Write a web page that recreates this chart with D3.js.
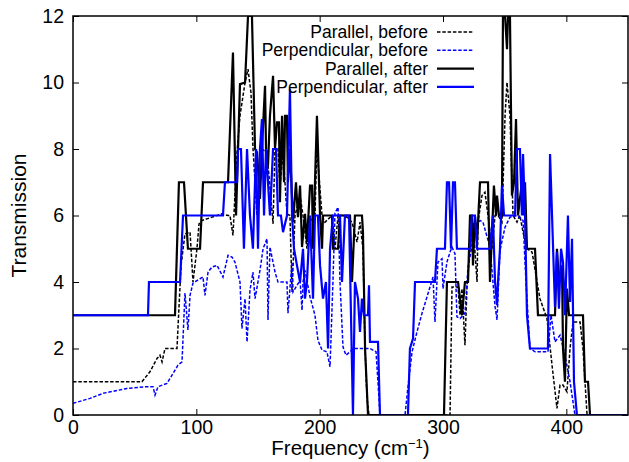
<!DOCTYPE html>
<html>
<head>
<meta charset="utf-8">
<script src="https://cdn.jsdelivr.net/npm/d3@7/dist/d3.min.js"></script>
<style>
  body { margin: 0; background: #fff; }
  svg { font-family: "Liberation Sans", Arial, sans-serif; }
  .axis path { display: none; }
  .axis line { stroke: #000; stroke-width: 1; }
  .axis text { font-size: 19.5px; fill: #000; }
  .line { fill: none; stroke-linejoin: miter; }
</style>
</head>
<body>
<svg width="629" height="462"></svg>
<script>
// [frequency (cm^-1), transmission]
var parBefore = [
  [0,1],[55.9,1],[62.4,1.3],[68.1,1.7],[70.5,1.8],[72.2,1.6],[74.6,2],[84.3,2],[87.6,4.5],
  [90.8,5.45],[94.9,5.5],[97.3,4],[100.5,5],[102.2,5.75],[104.6,5.85],[112.7,5.95],[120.8,6.05],
  [125.7,6],[127.3,6],[129.7,5.4],[133,7.9],[135.4,9],[139.5,10],[141.9,10.4],[144.3,9.7],
  [145.9,8.05],[149.2,6],[151.6,7.9],[155.7,8],[158.1,7.55],[162.2,5.75],[163.8,8.05],[166.2,8],
  [167.8,6.9],[170.3,7.9],[173.5,6.05],[175.9,6],[177.6,3.7],[180,6],[184.1,6.6],[186.5,6],
  [189.7,5],[192.2,5.8],[196.2,6],[197.8,8.2],[198.6,7.6],[201.9,6],[204.3,5.8],[210,6],
  [212.4,5],[214.9,6],[220.5,6],[226.2,5.8],[230.3,5.2],[232.7,5.8],[235.1,5],[236.8,2],
  [238.4,0.5],[240,0],[305.7,0],[307.3,3.85],[312.2,3.85],[313.8,3],[315.4,3.8],[317.8,2.1],
  [319.5,3.9],[321.9,5],[324.3,5.8],[327.6,4],[328.4,5.8],[331.6,6.6],[334,6.7],[336.5,6],
  [339.7,5],[342.2,6],[344.6,6],[347.8,5.8],[350.3,9],[351.9,10],[354.3,9],[356.8,6],[360,5.8],
  [362.4,6],[364.9,5.5],[368.1,5],[372.2,4.9],[378.6,3.5],[384.3,2.9],[388.4,1.5],[392.4,0.2],
  [394.9,0.9],[397.3,0.9],[400.5,0.7],[403,2],[405.4,2.8],[411.1,2.8],[413.5,2],[416.8,0],[450,0]
];

var perpBefore = [
  [0,0.35],[13.8,0.5],[24.3,0.65],[43.8,0.8],[58.4,0.85],[64.9,0.85],[66.5,0.6],[68.9,0.85],
  [76.2,0.95],[80.3,1.2],[85.1,1.5],[88.4,1.6],[90.8,3.67],[93.2,2.56],[94.9,3.6],[97.3,3.97],
  [105.4,4.15],[107,3.6],[109.5,4.3],[112.7,4.45],[116.8,4.5],[121.6,4.15],[125.7,4.8],
  [128.9,4.75],[131.3,4.6],[135.4,4],[137,2.6],[139.5,3.5],[141.1,2.2],[143.5,3.75],[145.9,4.3],
  [147.6,3.5],[151.6,4.35],[154.1,5],[157.3,5.3],[158.1,2.86],[159.7,5.05],[163.8,4.3],
  [166.2,4],[173.5,4],[174.3,3.06],[175.9,3.8],[177.6,4.6],[178.4,3.7],[184.1,4.05],[185.7,3.15],
  [186.5,4],[188.1,4.35],[192.2,3.55],[196.2,3],[198.6,2.25],[201.9,1.95],[205.9,1.9],
  [208.4,1.45],[210.8,4.05],[212.4,6.07],[214.9,6.25],[216.5,4],[218.9,2.05],[221.3,1.8],
  [224.6,1.9],[227,2],[232.7,2],[240.8,2],[245.7,1.9],[248.1,0.5],[248.9,0],[269.2,0],
  [271.6,0.85],[274.9,1.9],[278.9,2.5],[283,3.06],[287,3.55],[291.9,4.15],[293.5,2.8],
  [295.9,4.6],[299.2,4.7],[300,3.8],[303.2,4.6],[305.7,4.9],[307.3,5.05],[309.7,4.85],
  [311.3,2.95],[313.8,2.9],[317.8,3.06],[320.3,4.45],[324.3,5.25],[327.6,5.77],[330,5.85],
  [332.4,5.8],[338.1,5.05],[342.2,3.26],[343.8,2.86],[346.2,4.95],[350.3,5.65],[354.3,5.95],
  [360,6],[364.9,5.85],[367.3,4],[370.5,2],[374.6,1.9],[385.1,1.9],[387.6,3],[390.8,2.2],
  [394.9,2.4],[398.9,1.8],[403,1],[407,0],[450,0]
];

var parAfter = [
  [0,3],[82.7,3],[85.9,7],[90,7],[93.2,5],[103,5],[105.4,7],[125.7,7],[129.7,10.9],[132.2,6],
  [135.4,9.95],[139.5,10],[141.9,12],[145.1,12],[147.6,8],[149.2,7.9],[151.6,6.5],[153.2,8],
  [155.7,9.9],[156.5,8],[158.1,7.5],[159.7,9],[162.2,10.2],[163.8,8],[165.4,8.8],[167,8.8],
  [167.8,6.4],[169.5,9],[171.1,7],[171.9,9],[173.5,9],[174.3,7],[175.9,8],[178.4,5.8],[180.8,7],
  [182.4,5.95],[184.1,6.9],[185.7,5.05],[188.1,6.05],[189.7,5.2],[192.2,6.9],[193.8,6.9],
  [194.6,5],[197.8,9],[200.3,6],[201.9,5],[202.7,6],[210,6],[210.8,5],[214.9,5],[216.5,6],
  [224.6,6],[226.2,4],[228.6,6],[234.3,6],[235.1,5.5],[236.8,2],[239.2,0],[300.8,0],[303.2,4],
  [312.2,4],[315.4,3],[317.8,4],[320.3,4],[321.9,6],[323.5,6],[324.3,4.5],[325.9,6],[327.6,5.2],
  [330,7],[336.5,7],[338.1,4],[341.3,6.9],[343,6],[343.8,6.6],[345.4,6],[347.8,6],[348.6,12],
  [350.3,12],[351.9,11],[352.7,12],[354.3,12],[355.9,6.6],[357.6,7],[359.2,8.9],[360.8,6],
  [364,7],[365.7,6],[366.5,7],[368.1,5],[374.6,5],[377,3],[390.8,3],[392.4,5],[394,4],
  [396.5,4.5],[397.3,2],[398.9,1],[400.5,3.8],[402.2,3],[413.5,3],[415.1,1],[417.6,1],
  [419.2,0],[450,0]
];

var perpAfter = [
  [0,3],[60.8,3],[61.6,4],[86.8,4],[89.2,6],[121.6,6],[123.2,7],[133,7],[133.8,8],[136.2,8],
  [138.6,5],[141.1,8],[143.5,6],[145.9,5],[148.4,8],[150,5],[151.6,8],[153.2,8.9],[154.9,6],
  [156.5,8],[159.7,6],[162.2,8],[164.6,8],[166.2,6],[168.6,6],[170.3,5.5],[173.5,6],[175.9,9.8],
  [177.6,6],[179.2,5],[181.6,4.5],[184.1,4],[186.5,5],[188.1,3.5],[189.7,4],[192.2,6],[194.6,3.5],
  [196.2,6],[198.6,6],[200.3,4.5],[202.7,3.5],[205.1,4],[206.8,2],[208.4,5],[210.8,6],[216.5,6],
  [218.1,4],[220.5,6],[223.8,6],[225.4,3],[227,0],[228.6,4],[231.1,3.5],[232.7,2.5],[234.3,3.5],
  [235.9,3],[239.2,3],[240,3.9],[240.8,2.2],[247.3,2.2],[248.9,0],[271.6,0],[273.2,2],
  [275.7,2.3],[277.3,4],[293.5,4],[295.1,5],[301.6,5],[303.2,7],[304.9,7],[306.5,5],[308.1,7],
  [309.7,7],[311.3,5],[321.9,5],[323.5,6],[325.9,6],[327.6,5],[338.1,5],[340.5,6],[342.2,4],
  [343.8,3.3],[344.6,4],[346.2,5],[347.8,6.9],[349.5,6],[358.4,6],[360,8],[362.4,8],[364,6],
  [364.9,7.85],[366.5,6],[368.1,3],[370.5,2],[385.1,2],[386.8,7.85],[390.8,3.25],[392.4,4.9],
  [394,3.2],[395.7,5],[397.3,4.6],[398.9,3],[401.3,6],[403,3.4],[404.6,5.3],[406.2,1],
  [408.6,0],[450,0]
];

var xTicks = [0, 100, 200, 300, 400];
var yTicks = [0, 2, 4, 6, 8, 10, 12];
var seriesNames = ["Parallel, before", "Perpendicular, before", "Parallel, after", "Perpendicular, after"];

var margin = {top: 16, right: 1, bottom: 47, left: 73},
    width = 629 - margin.left - margin.right,
    height = 462 - margin.top - margin.bottom;

var x = d3.scaleLinear().domain([0, 450]).range([0, width]),
    y = d3.scaleLinear().domain([0, 12]).range([height, 0]);

var svg = d3.select("svg")
  .append("g")
    .attr("transform", "translate(" + margin.left + "," + margin.top + ")");

svg.append("clipPath")
    .attr("id", "clip")
  .append("rect")
    .attr("width", width)
    .attr("height", height);

// axes, ticks pointing inward on all four sides
svg.append("g")
    .attr("class", "axis")
    .attr("transform", "translate(0," + height + ")")
    .call(d3.axisBottom(x).tickValues(xTicks).tickSizeInner(-6).tickSizeOuter(0).tickPadding(5));

svg.append("g")
    .attr("class", "axis")
    .call(d3.axisTop(x).tickValues(xTicks).tickSizeInner(-6).tickSizeOuter(0).tickFormat(""));

svg.append("g")
    .attr("class", "axis")
    .call(d3.axisLeft(y).tickValues(yTicks).tickSizeInner(-6).tickSizeOuter(0).tickPadding(9));

svg.append("g")
    .attr("class", "axis")
    .attr("transform", "translate(" + width + ",0)")
    .call(d3.axisRight(y).tickValues(yTicks).tickSizeInner(-6).tickSizeOuter(0).tickFormat(""));

var line = d3.line()
    .x(function(d) { return x(d[0]); })
    .y(function(d) { return y(d[1]); });

var styles = [
  {data: parBefore,  color: "#000", width: 1.5, dash: "3.5,1.8"},
  {data: perpBefore, color: "#0000ff", width: 1.5, dash: "3.5,1.8"},
  {data: parAfter,   color: "#000", width: 2.2, dash: null},
  {data: perpAfter,  color: "#0000ff", width: 2.2, dash: null}
];

svg.selectAll(".line")
    .data(styles)
  .enter().append("path")
    .attr("class", "line")
    .attr("clip-path", "url(#clip)")
    .style("stroke", function(d) { return d.color; })
    .style("stroke-width", function(d) { return d.width; })
    .style("stroke-dasharray", function(d) { return d.dash; })
    .attr("d", function(d) { return line(d.data); });

// frame
svg.append("rect")
    .attr("width", width)
    .attr("height", height)
    .style("fill", "none")
    .style("stroke", "#000")
    .style("stroke-width", 1.5);

// legend
var legend = svg.selectAll(".legend")
    .data(styles)
  .enter().append("g")
    .attr("class", "legend")
    .attr("transform", function(d, i) { return "translate(0," + (16 + i * 18.3) + ")"; });

legend.append("text")
    .attr("x", 355)
    .attr("y", 6)
    .style("text-anchor", "end")
    .style("font-size", "17.5px")
    .text(function(d, i) { return seriesNames[i]; });

legend.append("line")
    .attr("x1", 364)
    .attr("x2", 401)
    .style("stroke", function(d) { return d.color; })
    .style("stroke-width", function(d) { return d.width; })
    .style("stroke-dasharray", function(d) { return d.dash; });

// axis titles
var xlab = svg.append("text")
    .attr("x", width / 2)
    .attr("y", height + 40)
    .style("text-anchor", "middle")
    .style("font-size", "20.5px");
xlab.append("tspan").text("Frequency (cm");
xlab.append("tspan").attr("dy", -7).style("font-size", "13px").text("\u22121");
xlab.append("tspan").attr("dy", 7).text(")");

svg.append("text")
    .attr("transform", "translate(" + (-47) + "," + (height / 2) + ")rotate(-90)")
    .style("text-anchor", "middle")
    .style("font-size", "21px")
    .text("Transmission");
</script>
</body>
</html>
